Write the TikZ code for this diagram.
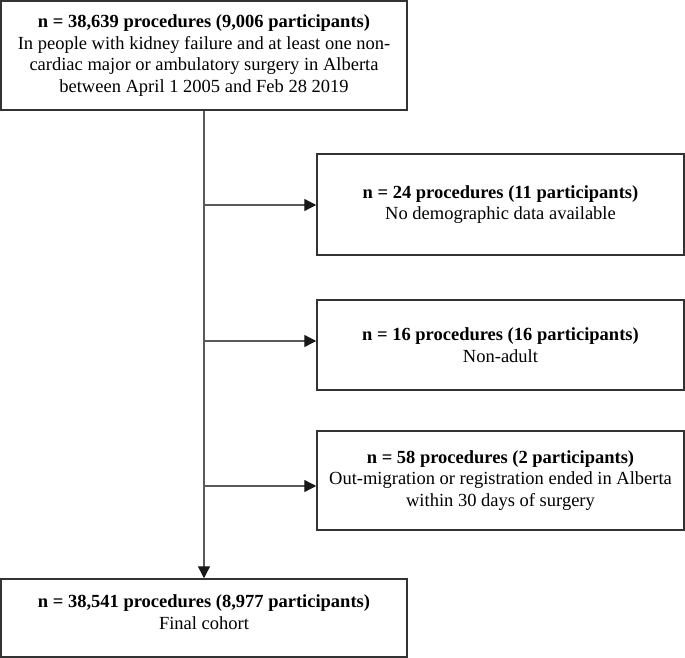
\documentclass[tikz,border=0pt]{standalone}
\usepackage{fontspec}
\setmainfont{Liberation Serif}
\usetikzlibrary{arrows.meta}
\tikzset{
  box/.style={draw=black!80, line width=1.5pt, fill=white, rectangle, inner sep=0pt,
    align=center, font=\fontsize{18.5}{21.7}\selectfont},
  txt/.style={align=center, inner sep=0pt, font=\fontsize{18.5}{21.7}\selectfont},
  conn/.style={draw=black!65, line width=1.3pt},
  arr/.style={conn, -{Triangle[length=12pt,width=12pt,color=black!90]}},
}
\begin{document}
\begin{tikzpicture}[x=1pt,y=-1pt]
\useasboundingbox (0,0) rectangle (685,658);
\node[box, minimum width=406pt, minimum height=109pt] (top) at (204,55.5)
  {\textbf{n = 38,639 procedures (9,006 participants)}\\In people with kidney failure and at least one non-\\cardiac major or ambulatory surgery in Alberta\\between April 1 2005 and Feb 28 2019};
\node[box, minimum width=367pt, minimum height=101pt] (b1) at (500.5,204.5)
  {\textbf{n = 24 procedures (11 participants)}\\No demographic data available};
\node[box, minimum width=367pt, minimum height=90pt] (b2) at (500.5,345)
  {\textbf{n = 16 procedures (16 participants)}\\Non-adult};
\node[box, minimum width=367pt, minimum height=99pt] (b3) at (500.5,480.5)
  {\textbf{n = 58 procedures (2 participants)}\\Out-migration or registration ended in Alberta\\within 30 days of surgery};
\node[box, minimum width=406pt, minimum height=78pt] (fin) at (204,618) {};
\node[txt] (fintxt) at (204,612) {\textbf{n = 38,541 procedures (8,977 participants)}\\Final cohort};
\coordinate (j1) at (204,205);
\coordinate (j2) at (204,341);
\coordinate (j3) at (204,486);
\draw[arr] (top.south) -- (fin.north);
\draw[arr] (j1) -- (b1.west |- j1);
\draw[arr] (j2) -- (b2.west |- j2);
\draw[arr] (j3) -- (b3.west |- j3);
\end{tikzpicture}
\end{document}
